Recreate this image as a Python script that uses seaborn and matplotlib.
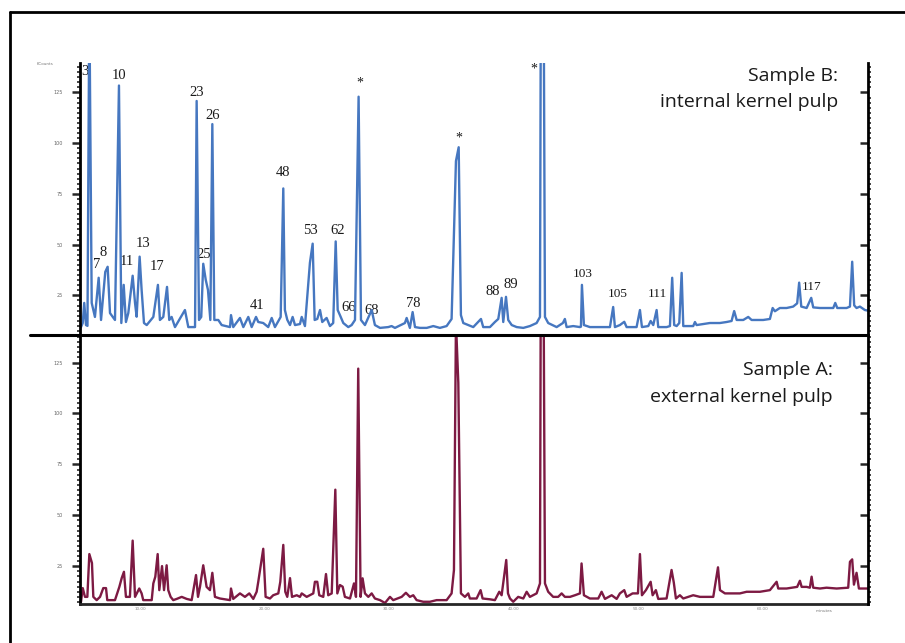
import numpy as np
import pandas as pd
import matplotlib
matplotlib.use("Agg")
import matplotlib.pyplot as plt
import seaborn as sns
from matplotlib.ticker import MultipleLocator, FixedLocator
from matplotlib.lines import Line2D

# ---------------- data ----------------
# Sample B (internal kernel pulp): retention time (min) / intensity (kcounts)
time_b = [4.70, 4.78, 4.92, 5.04, 5.18, 5.30, 5.45, 5.64, 5.90, 6.20, 6.39, 6.73, 6.92, 7.11, 7.51, 7.83,
          8.02, 8.21, 8.39, 8.58, 8.93, 9.12, 9.25, 9.49, 9.65, 9.84, 10.06, 10.59, 10.96, 11.12, 11.39,
          11.69, 11.87, 12.06, 12.33, 13.13, 13.40, 13.94, 14.07, 14.26, 14.44, 14.60, 14.80, 14.98, 15.17,
          15.33, 15.49, 15.81, 16.08, 16.75, 16.83, 17.01, 17.55, 17.82, 18.22, 18.49, 18.84, 19.02, 19.42,
          19.82, 20.10, 20.36, 20.82, 21.03, 21.16, 21.35, 21.57, 21.78, 21.97, 22.37, 22.51, 22.77, 23.17,
          23.39, 23.55, 23.76, 23.98, 24.16, 24.51, 24.78, 25.04, 25.24, 25.40, 25.58, 25.85, 26.25, 26.52,
          26.79, 27.08, 27.27, 27.59, 28.13, 28.39, 28.80, 29.46, 29.73, 30.00, 30.80, 30.94, 31.20, 31.42,
          31.61, 32.01, 32.55, 33.08, 33.61, 34.15, 34.55, 34.90, 35.12, 35.30, 35.49, 35.89, 36.29, 36.91,
          37.09, 37.63, 38.03, 38.30, 38.57, 38.70, 38.92, 39.10, 39.38, 39.78, 40.31, 40.84, 41.38, 41.65,
          41.73, 41.93, 42.05, 42.31, 42.99, 43.49, 43.65, 43.79, 44.32, 44.86, 44.94, 45.02, 45.18, 45.66,
          46.47, 47.27, 47.53, 47.67, 48.07, 48.42, 48.61, 49.41, 49.68, 49.84, 50.35, 50.54, 50.75, 51.02,
          51.15, 51.82, 52.09, 52.27, 52.43, 52.63, 52.84, 53.03, 53.16, 53.96, 54.10, 54.23, 55.30, 56.10,
          56.64, 57.04, 57.25, 57.45, 57.98, 58.38, 58.65, 59.58, 60.12, 60.34, 60.52, 60.92, 61.46, 61.99,
          62.31, 62.47, 62.64, 63.07, 63.44, 63.60, 64.14, 65.21, 65.37, 65.53, 66.28, 66.55, 66.73, 66.89,
          67.08, 67.35, 67.75, 68.01]
int_b = [9.0, 9.4, 11.4, 21.3, 10.4, 10.0, 170.0, 21.3, 14.4, 33.7, 12.9, 36.6, 39.1, 16.3, 12.9, 128.4,
         11.4, 30.2, 11.9, 16.3, 34.7, 21.3, 14.5, 44.1, 27.7, 11.4, 10.4, 14.4, 30.2, 12.9, 14.4,
         29.2, 12.9, 14.4, 9.4, 17.8, 9.4, 9.4, 120.8, 12.9, 14.4, 40.6, 32.7, 27.7, 12.9,
         109.4, 12.9, 12.9, 10.4, 9.4, 15.3, 9.4, 13.9, 9.4, 14.4, 9.4, 14.4, 11.9, 11.4,
         9.4, 13.9, 9.4, 14.4, 77.7, 17.8, 13.0, 10.4, 14.4, 10.4, 10.9, 14.4, 9.9, 41.1,
         50.5, 12.9, 13.4, 17.8, 11.9, 13.9, 9.9, 11.4, 51.6, 17.8, 15.3, 11.4, 9.4, 10.4,
         12.9, 122.9, 12.9, 10.4, 17.8, 10.4, 9.0, 9.4, 9.9, 9.0, 11.4, 13.9, 9.0, 16.8,
         9.4, 9.0, 9.0, 9.9, 9.0, 9.9, 13.4, 91.2, 98.0, 15.3, 11.4, 10.4, 9.4, 13.4,
         9.4, 9.4, 11.9, 13.4, 23.8, 11.9, 24.3, 12.9, 10.4, 9.4, 9.0, 9.9, 11.4, 14.4,
         200.0, 200.0, 14.4, 11.4, 9.4, 11.4, 13.4, 9.4, 9.9, 9.4, 9.6, 30.2, 10.4, 9.4,
         9.4, 9.4, 19.3, 9.4, 10.4, 12.0, 9.4, 9.4, 17.8, 9.4, 9.9, 12.4, 10.4, 17.8,
         9.4, 9.4, 9.9, 33.7, 10.4, 9.9, 11.4, 36.1, 9.9, 9.9, 11.9, 10.4, 11.4, 11.4,
         11.9, 12.4, 17.3, 12.9, 12.9, 14.4, 12.9, 12.9, 13.4, 18.8, 17.2, 18.8, 18.8, 19.5,
         21.1, 31.3, 19.5, 18.8, 23.8, 19.1, 18.8, 18.8, 21.3, 18.8, 18.8, 19.5, 41.6, 20.1,
         18.8, 19.5, 17.8, 17.5]

# Sample A (external kernel pulp)
time_a = [4.70, 4.78, 4.92, 5.10, 5.29, 5.45, 5.66, 5.77, 6.04, 6.31, 6.57, 6.79, 6.89, 7.51, 7.86, 8.05,
          8.23, 8.39, 8.71, 8.93, 9.12, 9.46, 9.65, 9.78, 10.46, 10.59, 10.75, 10.94, 11.07, 11.29, 11.45,
          11.66, 11.79, 11.98, 12.19, 12.47, 12.87, 13.27, 13.67, 14.02, 14.18, 14.34, 14.60, 14.87, 15.14,
          15.33, 15.54, 15.94, 16.75, 16.83, 17.01, 17.55, 17.95, 18.30, 18.62, 18.89, 19.02, 19.42, 19.61,
          19.96, 20.22, 20.63, 20.79, 21.03, 21.19, 21.35, 21.57, 21.73, 22.11, 22.37, 22.51, 22.91, 23.44,
          23.57, 23.76, 23.92, 24.24, 24.46, 24.64, 24.92, 25.21, 25.37, 25.58, 25.80, 25.98, 26.39, 26.71,
          26.87, 27.05, 27.24, 27.40, 27.59, 27.86, 28.13, 28.39, 28.80, 29.20, 29.60, 29.86, 30.54, 30.88,
          31.20, 31.47, 31.74, 32.27, 32.81, 33.35, 34.15, 34.55, 34.74, 34.90, 35.09, 35.30, 35.62, 35.89,
          36.02, 36.56, 36.88, 37.04, 37.63, 38.03, 38.38, 38.57, 38.94, 39.08, 39.24, 39.50, 39.90, 40.31,
          40.58, 40.84, 41.38, 41.65, 41.73, 41.91, 42.05, 42.31, 42.71, 43.11, 43.39, 43.65, 44.06, 44.46,
          44.86, 44.99, 45.18, 45.66, 46.33, 46.60, 46.87, 47.41, 47.81, 48.07, 48.42, 48.61, 49.09, 49.52,
          49.68, 49.84, 50.16, 50.54, 50.70, 50.96, 51.15, 51.82, 52.22, 52.40, 52.57, 52.89, 53.16, 53.56,
          53.96, 54.50, 55.57, 55.95, 56.11, 56.51, 57.17, 57.71, 58.25, 59.32, 60.12, 60.66, 60.79, 61.46,
          62.31, 62.53, 62.67, 63.07, 63.33, 63.47, 63.60, 64.14, 64.67, 65.48, 66.41, 66.55, 66.73, 66.87,
          67.08, 67.27, 68.01]
int_a = [6.9, 7.5, 14.3, 10.0, 10.0, 31.0, 26.6, 10.0, 8.4, 10.0, 14.3, 14.3, 8.4, 8.4, 14.9, 19.2,
         22.3, 10.0, 10.0, 37.6, 10.0, 14.1, 11.7, 8.4, 8.4, 16.6, 19.9, 31.0, 13.3, 25.1, 13.3,
         25.5, 13.3, 10.0, 8.4, 9.0, 10.0, 9.0, 8.4, 20.7, 10.0, 15.0, 25.5, 14.9, 13.3,
         21.8, 10.0, 9.2, 8.4, 14.1, 9.0, 11.7, 10.0, 11.7, 9.0, 12.5, 17.4, 33.6, 10.0,
         9.2, 10.8, 11.7, 17.4, 35.5, 12.5, 10.0, 19.2, 10.0, 10.8, 10.0, 11.7, 10.0, 11.7,
         17.4, 17.4, 10.8, 10.0, 21.2, 10.8, 11.7, 62.6, 11.7, 15.8, 15.0, 10.0, 9.2, 16.6,
         10.0, 122.0, 10.0, 19.1, 11.7, 10.0, 11.7, 9.2, 8.4, 7.0, 10.0, 8.4, 10.0, 12.0,
         10.0, 10.8, 8.4, 7.6, 7.6, 8.4, 8.4, 11.7, 23.2, 145.0, 115.0, 11.7, 10.0, 11.7,
         9.2, 9.2, 13.3, 9.2, 8.8, 8.4, 12.5, 10.8, 28.1, 11.7, 9.2, 7.6, 10.0, 9.2,
         12.5, 10.0, 11.7, 16.6, 200.0, 200.0, 16.6, 12.5, 10.0, 10.0, 11.7, 10.0, 10.0, 10.8,
         11.7, 26.4, 10.8, 9.2, 9.2, 12.5, 9.0, 10.8, 9.0, 11.7, 13.3, 10.0, 11.7, 11.7,
         31.0, 10.8, 13.3, 17.4, 10.8, 13.3, 9.0, 9.2, 23.2, 17.0, 9.2, 10.8, 9.2, 10.0,
         10.8, 10.0, 10.0, 24.5, 13.3, 11.7, 11.7, 11.7, 12.5, 12.5, 13.3, 17.4, 14.1, 14.1,
         14.9, 17.9, 14.9, 14.9, 14.5, 19.9, 14.5, 14.1, 14.5, 14.1, 14.5, 27.2, 28.4, 16.0,
         21.8, 14.1, 14.1]

# peak labels on Sample B: label, time, intensity
peak_labels = ["3", "7", "8", "10", "11", "13", "17", "23", "25", "26", "41", "48", "53", "62", "*",
               "66", "68", "78", "*", "88", "89", "*", "103", "105", "111", "117"]
peak_t = [5.10, 6.04, 6.57, 7.81, 8.45, 9.78, 10.91, 14.07, 14.60, 15.36, 18.94, 20.98, 23.23, 25.40,
          27.21, 26.31, 28.15, 31.47, 35.14, 37.85, 39.32, 41.16, 45.08, 47.86, 51.10, 63.47]
peak_v = [135.1, 40.1, 46.2, 133.2, 41.6, 50.5, 39.3, 125.2, 45.0, 113.5, 19.8, 85.6, 56.9, 56.9,
          129.6, 19.0, 17.8, 21.1, 102.3, 26.9, 30.2, 136.3, 35.6, 25.7, 25.7, 29.1]

y_ticks = [25, 50, 75, 100, 125]
x_ticks = [10, 20, 30, 40, 50, 60]
x_tick_labels = ["10.00", "20.00", "30.00", "40.00", "50.00", "60.00"]

assert len(time_b) == len(int_b), (len(time_b), len(int_b))
assert len(time_a) == len(int_a), (len(time_a), len(int_a))

# ---------------- figure ----------------
sns.set_style("white")
plt.rcParams["font.family"] = ["DejaVu Sans"]

W, H = 905, 643
fig = plt.figure(figsize=(W / 100, H / 100), dpi=100)
fig.patch.set_facecolor("white")

blue = "#4677c0"
maroon = "#7d1a43"

ax_top = fig.add_axes([80 / W, 1 - 335 / H, 788 / W, 272 / H])
ax_bot = fig.add_axes([80 / W, 1 - 604 / H, 788 / W, 269 / H])

df_b = pd.DataFrame({"time": time_b, "intensity": int_b})
df_a = pd.DataFrame({"time": time_a, "intensity": int_a})

sns.lineplot(data=df_b, x="time", y="intensity", ax=ax_top, color=blue, lw=1.7,
             estimator=None, sort=False)
sns.lineplot(data=df_a, x="time", y="intensity", ax=ax_bot, color=maroon, lw=1.7,
             estimator=None, sort=False)

xlim = (4.70, 68.0)
ylims = {ax_top: (5.5, 139.5), ax_bot: (6.5, 138.5)}
ax_top.set_xlim(*xlim)
ax_bot.set_xlim(*xlim)

for ax in (ax_top, ax_bot):
    ax.set_ylim(*ylims[ax])
    ax.set_xlabel("")
    ax.set_ylabel("")
    ax.set_facecolor("none")
    ax.spines["top"].set_visible(False)
    ax.spines["right"].set_visible(False)
    ax.spines["left"].set_linewidth(2.0)
    ax.spines["left"].set_color("black")
    ax.yaxis.set_major_locator(FixedLocator(y_ticks))
    ax.yaxis.set_minor_locator(MultipleLocator(2.5))
    ax.tick_params(axis="y", which="major", direction="out", length=6, width=1.8,
                   labelsize=3.5, labelcolor="#666666", pad=6.5, left=True, right=False)
    ax.tick_params(axis="y", which="minor", direction="out", length=2.5, width=1.2,
                   left=True, right=False)
    # right-hand scale: major ticks inward, minor ticks outward
    tw = ax.twinx()
    tw.set_ylim(*ylims[ax])
    tw.set_facecolor("none")
    for s in ("top", "left", "bottom"):
        tw.spines[s].set_visible(False)
    tw.spines["right"].set_visible(True)
    tw.spines["right"].set_linewidth(2.0)
    tw.spines["right"].set_color("black")
    tw.yaxis.set_major_locator(FixedLocator(y_ticks))
    tw.yaxis.set_minor_locator(MultipleLocator(2.5))
    tw.tick_params(axis="y", which="major", direction="in", length=6, width=1.8,
                   labelright=False, right=True, left=False)
    tw.tick_params(axis="y", which="minor", direction="out", length=2.5, width=1.2,
                   right=True, left=False)
    tw.set_xticks([])
    tw.grid(False)

ax_top.spines["bottom"].set_visible(False)
ax_top.set_xticks([])

ax_bot.spines["bottom"].set_linewidth(2.0)
ax_bot.xaxis.set_major_locator(FixedLocator(x_ticks))
ax_bot.set_xticklabels(x_tick_labels)
ax_bot.xaxis.set_minor_locator(MultipleLocator(1))
ax_bot.tick_params(axis="x", which="major", direction="out", length=6, width=1.8,
                   labelsize=3, labelcolor="#888888", pad=-4)
ax_bot.tick_params(axis="x", which="minor", direction="out", length=3, width=1.2)
for lab in ax_bot.get_xticklabels():
    lab.set_horizontalalignment("right")

# peak labels
for lab, t, v in zip(peak_labels, peak_t, peak_v):
    if lab == "*":
        fs = 10
    elif len(lab) == 3:
        fs = 9.5
    else:
        fs = 10.5
    ax_top.text(t, v, lab, ha="center", va="center", fontsize=fs,
                family=["Liberation Serif", "DejaVu Serif"], color="#1a1a1a", zorder=1)

# sample titles
txt_kw = dict(ha="right", va="center", fontsize=14, color="#1a1a1a",
              family=["Open Sans", "DejaVu Sans"])
fig.text(838 / W, 1 - 76 / H, "Sample B:", **txt_kw)
fig.text(838 / W, 1 - 102 / H, "internal kernel pulp", **txt_kw)
fig.text(833 / W, 1 - 370 / H, "Sample A:", **txt_kw)
fig.text(833 / W, 1 - 397 / H, "external kernel pulp", **txt_kw)

# tiny axis captions
fig.text(45 / W, 1 - 64 / H, "KCounts", fontsize=3, color="#777777", ha="center", va="center")
fig.text(824 / W, 1 - 611 / H, "minutes", fontsize=3, color="#777777", ha="center", va="center")

# frame lines
fig.add_artist(Line2D([10 / W, 1.0], [1 - 12 / H, 1 - 12 / H], color="black", lw=2.0,
                      transform=fig.transFigure))
fig.add_artist(Line2D([10 / W, 10 / W], [0.0, 1 - 12 / H], color="black", lw=2.0,
                      transform=fig.transFigure))
fig.add_artist(Line2D([30 / W, 868 / W], [1 - 335 / H, 1 - 335 / H], color="black", lw=2.2,
                      transform=fig.transFigure))

fig.savefig("out.png", dpi=100, facecolor="white")
